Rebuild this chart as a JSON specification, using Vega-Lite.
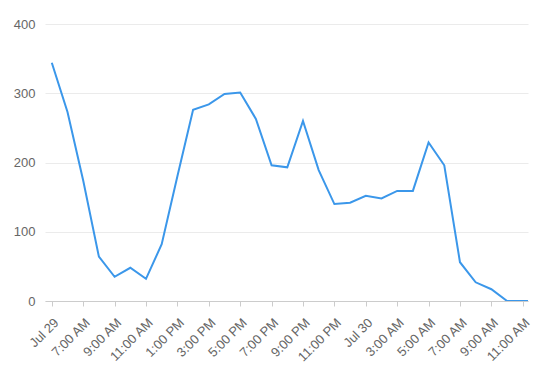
{
  "$schema": "https://vega.github.io/schema/vega-lite/v6.json",
  "width": 483,
  "height": 277,
  "autosize": {"type": "none"},
  "padding": {"left": 45, "top": 24, "right": 10, "bottom": 71},
  "background": "white",
  "config": {
    "view": {"stroke": null},
    "font": "Liberation Sans",
    "axis": {"labelFont": "Liberation Sans", "labelFontSize": 13, "labelColor": "#666666", "title": null}
  },
  "data": {
    "values": [
      {"time": "2024-07-29T05:00:00Z", "value": 344},
      {"time": "2024-07-29T06:00:00Z", "value": 273},
      {"time": "2024-07-29T07:00:00Z", "value": 174},
      {"time": "2024-07-29T08:00:00Z", "value": 64},
      {"time": "2024-07-29T09:00:00Z", "value": 35},
      {"time": "2024-07-29T10:00:00Z", "value": 48},
      {"time": "2024-07-29T11:00:00Z", "value": 32},
      {"time": "2024-07-29T12:00:00Z", "value": 82},
      {"time": "2024-07-29T13:00:00Z", "value": 180},
      {"time": "2024-07-29T14:00:00Z", "value": 276},
      {"time": "2024-07-29T15:00:00Z", "value": 284},
      {"time": "2024-07-29T16:00:00Z", "value": 299},
      {"time": "2024-07-29T17:00:00Z", "value": 301},
      {"time": "2024-07-29T18:00:00Z", "value": 263},
      {"time": "2024-07-29T19:00:00Z", "value": 196},
      {"time": "2024-07-29T20:00:00Z", "value": 193},
      {"time": "2024-07-29T21:00:00Z", "value": 260},
      {"time": "2024-07-29T22:00:00Z", "value": 189},
      {"time": "2024-07-29T23:00:00Z", "value": 140},
      {"time": "2024-07-30T00:00:00Z", "value": 142},
      {"time": "2024-07-30T01:00:00Z", "value": 152},
      {"time": "2024-07-30T02:00:00Z", "value": 148},
      {"time": "2024-07-30T03:00:00Z", "value": 159},
      {"time": "2024-07-30T04:00:00Z", "value": 159},
      {"time": "2024-07-30T05:00:00Z", "value": 229},
      {"time": "2024-07-30T06:00:00Z", "value": 196},
      {"time": "2024-07-30T07:00:00Z", "value": 56},
      {"time": "2024-07-30T08:00:00Z", "value": 27},
      {"time": "2024-07-30T09:00:00Z", "value": 17},
      {"time": "2024-07-30T10:00:00Z", "value": 0},
      {"time": "2024-07-30T11:00:00Z", "value": 0},
      {"time": "2024-07-30T12:00:00Z", "value": 0}
    ]
  },
  "mark": {"type": "line", "color": "#3b97ea", "strokeWidth": 2, "clip": true},
  "encoding": {
    "x": {
      "field": "time",
      "type": "temporal",
      "scale": {
        "type": "utc",
        "domain": [
          {"year": 2024, "month": 7, "date": 29, "hours": 4, "minutes": 34, "utc": true},
          {"year": 2024, "month": 7, "date": 30, "hours": 11, "minutes": 20, "utc": true}
        ]
      },
      "axis": {
        "values": [
          {"year": 2024, "month": 7, "date": 29, "hours": 5, "utc": true},
          {"year": 2024, "month": 7, "date": 29, "hours": 7, "utc": true},
          {"year": 2024, "month": 7, "date": 29, "hours": 9, "utc": true},
          {"year": 2024, "month": 7, "date": 29, "hours": 11, "utc": true},
          {"year": 2024, "month": 7, "date": 29, "hours": 13, "utc": true},
          {"year": 2024, "month": 7, "date": 29, "hours": 15, "utc": true},
          {"year": 2024, "month": 7, "date": 29, "hours": 17, "utc": true},
          {"year": 2024, "month": 7, "date": 29, "hours": 19, "utc": true},
          {"year": 2024, "month": 7, "date": 29, "hours": 21, "utc": true},
          {"year": 2024, "month": 7, "date": 29, "hours": 23, "utc": true},
          {"year": 2024, "month": 7, "date": 30, "hours": 1, "utc": true},
          {"year": 2024, "month": 7, "date": 30, "hours": 3, "utc": true},
          {"year": 2024, "month": 7, "date": 30, "hours": 5, "utc": true},
          {"year": 2024, "month": 7, "date": 30, "hours": 7, "utc": true},
          {"year": 2024, "month": 7, "date": 30, "hours": 9, "utc": true},
          {"year": 2024, "month": 7, "date": 30, "hours": 11, "utc": true}
        ],
        "labelExpr": "utchours(datum.value) == 1 || (utchours(datum.value) == 5 && utcdate(datum.value) == 29) ? utcFormat(datum.value, '%b %d') : utcFormat(datum.value, '%-I:%M %p')",
        "labelAngle": -45,
        "labelAlign": "right",
        "labelBaseline": "top",
        "labelPadding": 10,
        "labelOverlap": false,
        "grid": false,
        "domainColor": "#cccccc",
        "tickColor": "#cccccc",
        "tickSize": 5
      }
    },
    "y": {
      "field": "value",
      "type": "quantitative",
      "scale": {"domain": [0, 400], "nice": false},
      "axis": {
        "values": [0, 100, 200, 300, 400],
        "domain": false,
        "ticks": false,
        "tickSize": 0,
        "labelPadding": 10,
        "gridColor": "#ebebeb",
        "gridWidth": 1
      }
    }
  }
}
